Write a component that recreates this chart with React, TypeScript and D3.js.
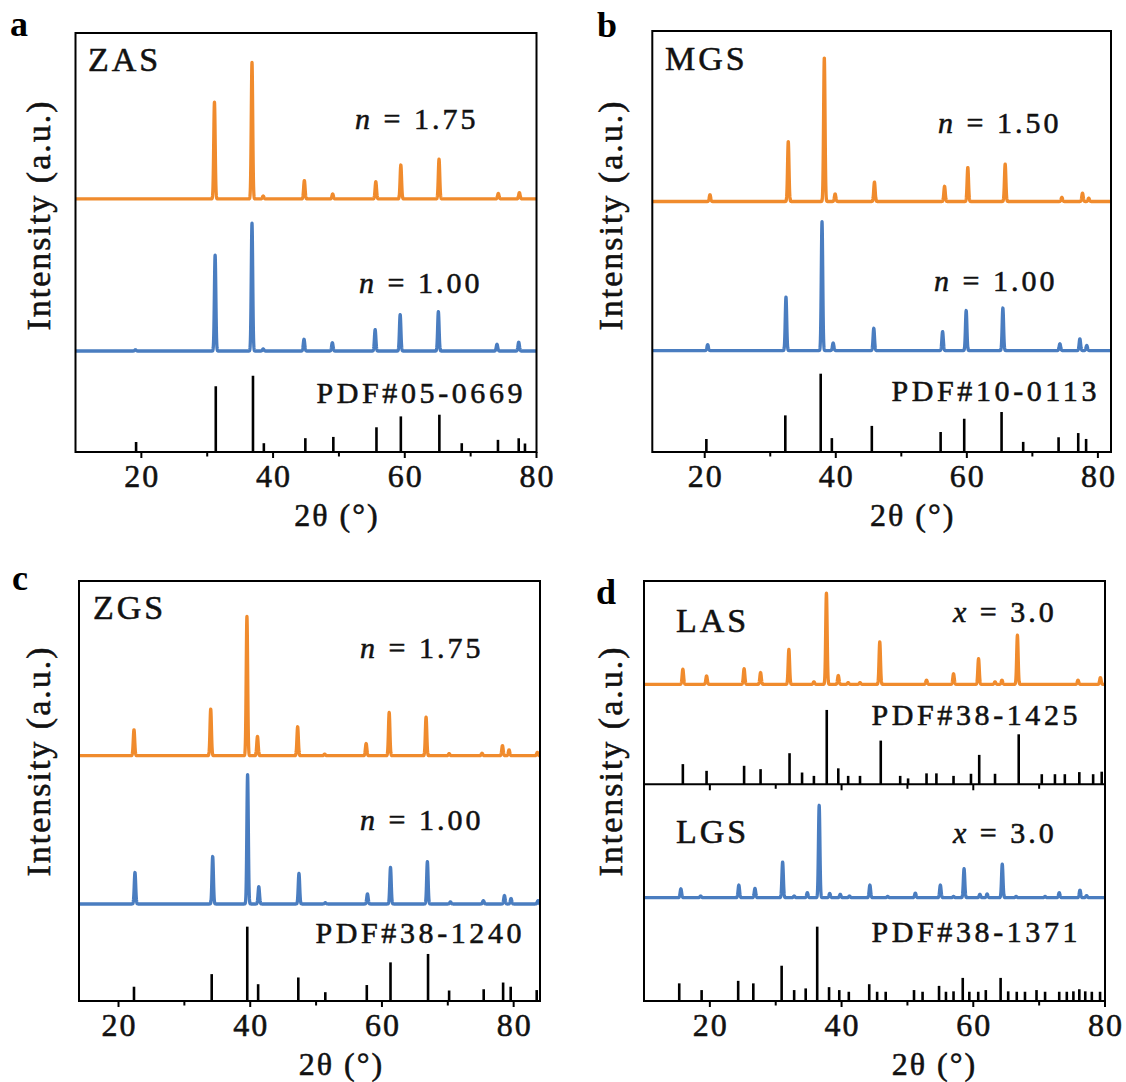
import React from 'react';
import * as d3 from 'd3';

// ---------- data (2θ in degrees, intensity in a.u.; panel frame spans 0..100) ----------
// Panel a – ZAS
const zasN175Peaks = [[31.1, 23.1], [36.8, 32.6], [38.5, 0.7], [44.75, 4.4], [49.05, 1.2], [55.6, 4.1], [59.4, 8.1], [65.2, 9.5], [74.2, 1.3], [77.4, 1.5]];
const zasN100Peaks = [[19.1, 0.3], [31.2, 22.9], [36.8, 30.5], [38.5, 0.5], [44.7, 2.8], [49.0, 2.0], [55.5, 5.1], [59.3, 8.7], [65.1, 9.4], [74.0, 1.6], [77.3, 2.1]];
const zasRefLines = [[19.2, 2.4], [31.3, 15.7], [36.95, 18.2], [38.6, 2.1], [44.9, 3.3], [49.15, 3.6], [55.7, 5.9], [59.4, 8.5], [65.25, 8.9], [68.65, 2.1], [74.15, 2.9], [77.3, 3.3], [78.25, 2.0]];

// Panel b – MGS
const mgsN150Peaks = [[20.8, 1.6], [32.75, 14.3], [38.25, 34.2], [39.9, 1.8], [45.9, 4.6], [56.6, 3.6], [60.15, 8.1], [65.85, 8.9], [74.5, 1.0], [77.65, 2.0], [78.6, 0.8]];
const mgsN100Peaks = [[20.45, 1.4], [32.4, 12.7], [37.9, 30.6], [39.6, 1.8], [45.8, 5.3], [56.3, 4.5], [59.9, 9.5], [65.5, 10.1], [74.2, 1.6], [77.25, 2.8], [78.3, 1.2]];
const mgsRefLines = [[20.25, 3.1], [32.3, 8.7], [37.7, 18.6], [39.4, 3.3], [45.5, 6.2], [56.0, 4.75], [59.6, 7.9], [65.3, 9.5], [68.6, 2.4], [74.0, 3.5], [77.0, 4.5], [78.2, 3.1]];

// Panel c – ZGS
const zgsN175Peaks = [[22.35, 6.2], [34.0, 11.1], [39.5, 33.2], [41.1, 4.6], [47.2, 6.9], [51.3, 0.4], [57.6, 2.9], [61.1, 10.3], [66.7, 9.2], [70.2, 0.5], [75.2, 0.6], [78.3, 2.4], [79.3, 1.4], [83.6, 0.8]];
const zgsN100Peaks = [[22.5, 7.5], [34.3, 11.3], [39.6, 30.8], [41.3, 4.1], [47.4, 7.3], [51.4, 0.3], [57.8, 2.4], [61.3, 8.7], [66.9, 10.1], [70.4, 0.5], [75.4, 0.8], [78.6, 2.0], [79.6, 1.3], [83.7, 0.8]];
const zgsRefLines = [[22.35, 3.4], [34.15, 6.4], [39.55, 17.7], [41.2, 4.0], [47.3, 5.6], [51.4, 2.1], [57.7, 3.8], [61.3, 9.2], [67.0, 11.2], [70.2, 2.5], [75.45, 2.8], [78.4, 4.4], [79.55, 3.4], [83.5, 2.6]];

// Panel d – LAS / LGS
const lasX30Peaks = [[15.9, 3.6], [19.5, 2.0], [25.2, 3.7], [27.7, 2.8], [32.0, 8.3], [35.8, 0.6], [37.7, 21.7], [39.5, 2.1], [41.0, 0.4], [42.8, 0.4], [45.8, 10.1], [52.9, 1.0], [57.0, 2.5], [60.8, 6.1], [63.3, 0.6], [64.35, 1.0], [66.7, 11.7], [75.9, 1.0], [79.3, 1.6]];
const lasRefLines = [[15.9, 4.8], [19.5, 3.2], [25.2, 4.4], [27.7, 3.6], [32.1, 7.4], [34.0, 2.8], [35.8, 2.0], [37.75, 17.7], [39.5, 3.8], [41.0, 2.0], [42.8, 2.0], [45.95, 10.4], [48.9, 2.0], [50.1, 1.4], [52.9, 2.6], [54.4, 2.6], [57.0, 2.0], [59.65, 2.5], [60.9, 7.0], [63.3, 2.5], [66.9, 11.9], [70.4, 2.4], [72.4, 2.4], [73.9, 2.4], [76.1, 2.9], [78.2, 2.4], [79.5, 3.0]];
const lgsX30Peaks = [[15.6, 2.1], [18.6, 0.4], [24.4, 3.0], [26.85, 2.2], [31.05, 8.5], [32.8, 0.4], [34.8, 1.2], [36.6, 22.0], [38.2, 1.0], [39.8, 0.8], [41.2, 0.4], [44.3, 3.0], [47.0, 0.3], [51.2, 1.1], [55.0, 3.0], [57.0, 0.3], [58.6, 6.9], [61.0, 0.8], [62.1, 0.9], [64.4, 8.0], [66.5, 0.3], [70.9, 0.3], [73.05, 1.2], [76.2, 1.8], [77.2, 0.5]];
const lgsRefLines = [[15.35, 4.2], [18.75, 2.6], [24.3, 4.8], [26.6, 4.2], [30.9, 8.4], [32.8, 2.6], [34.55, 3.0], [36.3, 17.7], [38.1, 3.3], [39.65, 2.6], [41.1, 2.2], [44.2, 4.0], [45.4, 2.2], [46.7, 2.2], [51.0, 2.6], [52.3, 2.2], [54.8, 3.6], [55.85, 2.2], [57.0, 2.3], [58.4, 5.5], [59.4, 2.2], [60.75, 2.2], [61.9, 2.6], [64.15, 5.5], [65.3, 2.3], [66.6, 2.2], [67.85, 2.2], [69.6, 2.6], [70.9, 2.2], [73.05, 2.2], [74.2, 2.2], [75.2, 2.3], [76.1, 2.8], [77.0, 2.3], [78.0, 2.2], [79.25, 2.2]];

const majorTicks = [20, 40, 60, 80];
const minorTicks = [30, 50, 70];
const tickLabels = ['20', '40', '60', '80'];

// ---------- styling ----------
const ORANGE = '#F08B2D';
const BLUE = '#4A7DC0';
const FONT = 'Liberation Serif';
const SIGMA = 0.11;
const TXT = { fill: '#111', stroke: '#111', strokeWidth: 0.55 };

type Peaks = number[][];

interface SeriesCfg { peaks: Peaks; offset: number; color: string }
interface RefCfg { lines: Peaks; base: number }
interface TextCfg { x: number; y: number; italic?: string; text: string; size: number; spacing: number }

interface PanelCfg {
  letter: string; lx: number; ly: number;
  x0: number; x1: number; y0: number; y1: number;
  domain: [number, number];
  series: SeriesCfg[];
  refs: RefCfg[];
  innerAxis?: number;
  texts: TextCfg[];
  ylabX: number; ylabY: number;
  titleDx: number;
}

const panels: PanelCfg[] = [
  {
    letter: 'a', lx: 10, ly: 36, x0: 75.5, x1: 536.5, y0: 33, y1: 452, domain: [10, 80],
    series: [
      { peaks: zasN175Peaks, offset: 60.4, color: ORANGE },
      { peaks: zasN100Peaks, offset: 24.1, color: BLUE },
    ],
    refs: [{ lines: zasRefLines, base: 0 }],
    texts: [
      { x: 88, y: 70.5, text: 'ZAS', size: 34, spacing: 3 },
      { x: 355, y: 129, italic: 'n', text: ' = 1.75', size: 30, spacing: 3 },
      { x: 359, y: 293, italic: 'n', text: ' = 1.00', size: 30, spacing: 3 },
      { x: 316.5, y: 403, text: 'PDF#05-0669', size: 30, spacing: 3.6 },
    ],
    ylabX: 50, ylabY: 215, titleDx: 31,
  },
  {
    letter: 'b', lx: 597, ly: 37, x0: 652.3, x1: 1111, y0: 31, y1: 452, domain: [12, 82],
    series: [
      { peaks: mgsN150Peaks, offset: 59.5, color: ORANGE },
      { peaks: mgsN100Peaks, offset: 24.1, color: BLUE },
    ],
    refs: [{ lines: mgsRefLines, base: 0 }],
    texts: [
      { x: 665, y: 70.3, text: 'MGS', size: 34, spacing: 3 },
      { x: 938, y: 133, italic: 'n', text: ' = 1.50', size: 30, spacing: 3 },
      { x: 934, y: 291, italic: 'n', text: ' = 1.00', size: 30, spacing: 3 },
      { x: 891.5, y: 400.7, text: 'PDF#10-0113', size: 30, spacing: 3.6 },
    ],
    ylabX: 622, ylabY: 215, titleDx: 31,
  },
  {
    letter: 'c', lx: 12, ly: 590, x0: 79, x1: 540, y0: 581, y1: 1001, domain: [14, 84],
    series: [
      { peaks: zgsN175Peaks, offset: 58.4, color: ORANGE },
      { peaks: zgsN100Peaks, offset: 23.1, color: BLUE },
    ],
    refs: [{ lines: zgsRefLines, base: 0 }],
    texts: [
      { x: 93, y: 619, text: 'ZGS', size: 34, spacing: 3 },
      { x: 360, y: 658.3, italic: 'n', text: ' = 1.75', size: 30, spacing: 3 },
      { x: 360, y: 830, italic: 'n', text: ' = 1.00', size: 30, spacing: 3 },
      { x: 315.5, y: 943.3, text: 'PDF#38-1240', size: 30, spacing: 3.6 },
    ],
    ylabX: 50, ylabY: 761, titleDx: 32,
  },
  {
    letter: 'd', lx: 596, ly: 604, x0: 644, x1: 1105, y0: 581, y1: 1001, domain: [10, 80],
    series: [
      { peaks: lasX30Peaks, offset: 75.4, color: ORANGE },
      { peaks: lgsX30Peaks, offset: 24.6, color: BLUE },
    ],
    refs: [{ lines: lasRefLines, base: 51.6 }, { lines: lgsRefLines, base: 0 }],
    innerAxis: 51.6,
    texts: [
      { x: 676, y: 632.3, text: 'LAS', size: 34, spacing: 3 },
      { x: 953, y: 621.7, italic: 'x', text: ' = 3.0', size: 30, spacing: 3 },
      { x: 871.5, y: 725, text: 'PDF#38-1425', size: 30, spacing: 3.6 },
      { x: 676, y: 843.3, text: 'LGS', size: 34, spacing: 3 },
      { x: 953, y: 842.7, italic: 'x', text: ' = 3.0', size: 30, spacing: 3 },
      { x: 871.5, y: 941.7, text: 'PDF#38-1371', size: 30, spacing: 3.6 },
    ],
    ylabX: 622, ylabY: 761, titleDx: 60,
  },
];

function profile(peaks: Peaks, offset: number, domain: [number, number]) {
  const thetas = d3.range(domain[0], domain[1] + 1e-9, 0.02);
  return thetas.map((t) => [
    t,
    offset + d3.sum(peaks, ([p, h]) => h * Math.exp(-0.5 * ((t - p) / SIGMA) ** 2)),
  ]);
}

function Panel({ cfg, idx }: { cfg: PanelCfg; idx: number }) {
  const x = d3.scaleLinear().domain(cfg.domain).range([cfg.x0, cfg.x1]);
  const y = d3.scaleLinear().domain([0, 100]).range([cfg.y1, cfg.y0]);
  const line = d3.line<number[]>().x((d) => x(d[0])).y((d) => y(d[1]));
  const clipId = `clip-${idx}`;
  const axisYs = [cfg.y1, ...(cfg.innerAxis !== undefined ? [y(cfg.innerAxis)] : [])];
  const midX = (cfg.x0 + cfg.x1) / 2;
  return (
    <g>
      <defs>
        <clipPath id={clipId}>
          <rect x={cfg.x0} y={cfg.y0} width={cfg.x1 - cfg.x0} height={cfg.y1 - cfg.y0} />
        </clipPath>
      </defs>
      <g clipPath={`url(#${clipId})`}>
        {cfg.refs.map((r, i) => (
          <g key={i}>
            {r.lines.map(([p, h], j) => (
              <line key={j} x1={x(p)} x2={x(p)} y1={y(r.base)} y2={y(r.base + h)} stroke="#000" strokeWidth={2.6} />
            ))}
          </g>
        ))}
        {cfg.series.map((s, i) => (
          <path key={i} d={line(profile(s.peaks, s.offset, cfg.domain)) || ''} fill="none" stroke={s.color} strokeWidth={3.3} strokeLinejoin="round" />
        ))}
      </g>
      {axisYs.map((ay, i) => (
        <g key={i}>
          <line x1={cfg.x0} x2={cfg.x1} y1={ay} y2={ay} stroke="#000" strokeWidth={2} />
          {majorTicks.filter((t) => t >= cfg.domain[0] && t <= cfg.domain[1]).map((t) => (
            <line key={`M${t}`} x1={x(t)} x2={x(t)} y1={ay} y2={ay + 6} stroke="#000" strokeWidth={2} />
          ))}
          {minorTicks.map((t) => (
            <line key={`m${t}`} x1={x(t)} x2={x(t)} y1={ay} y2={ay + 4.5} stroke="#000" strokeWidth={2} />
          ))}
        </g>
      ))}
      <rect x={cfg.x0} y={cfg.y0} width={cfg.x1 - cfg.x0} height={cfg.y1 - cfg.y0} fill="none" stroke="#000" strokeWidth={2} />
      {majorTicks.map((t, i) => (
        <text key={t} x={x(t) + 1} y={cfg.y1 + 34.7} textAnchor="middle" fontFamily={FONT} fontSize={32} style={{ letterSpacing: '2px' }} {...TXT}>
          {tickLabels[i]}
        </text>
      ))}
      <text x={midX + cfg.titleDx} y={cfg.y1 + 74} textAnchor="middle" fontFamily={FONT} fontSize={32} style={{ letterSpacing: '2px' }} {...TXT}>
        2θ (°)
      </text>
      <text transform={`translate(${cfg.ylabX},${cfg.ylabY}) rotate(-90)`} textAnchor="middle" fontFamily={FONT} fontSize={34} style={{ letterSpacing: '2px' }} {...TXT}>
        Intensity (a.u.)
      </text>
      <text x={cfg.lx} y={cfg.ly} fontFamily={FONT} fontWeight="bold" fontSize={36} fill="#000">
        {cfg.letter}
      </text>
      {cfg.texts.map((t, i) => (
        <text key={i} x={t.x} y={t.y} fontFamily={FONT} fontSize={t.size} style={{ letterSpacing: `${t.spacing}px` }} {...TXT}>
          {t.italic ? <tspan fontStyle="italic">{t.italic}</tspan> : null}
          {t.italic ? <tspan>{t.text}</tspan> : t.text}
        </text>
      ))}
    </g>
  );
}

export default function App() {
  return (
    <svg width={1126} height={1082} viewBox="0 0 1126 1082" style={{ position: 'absolute', left: 0, top: 0, background: '#fff' }}>
      <rect x={0} y={0} width={1126} height={1082} fill="#fff" />
      {panels.map((p, i) => (
        <Panel key={p.letter} cfg={p} idx={i} />
      ))}
    </svg>
  );
}
